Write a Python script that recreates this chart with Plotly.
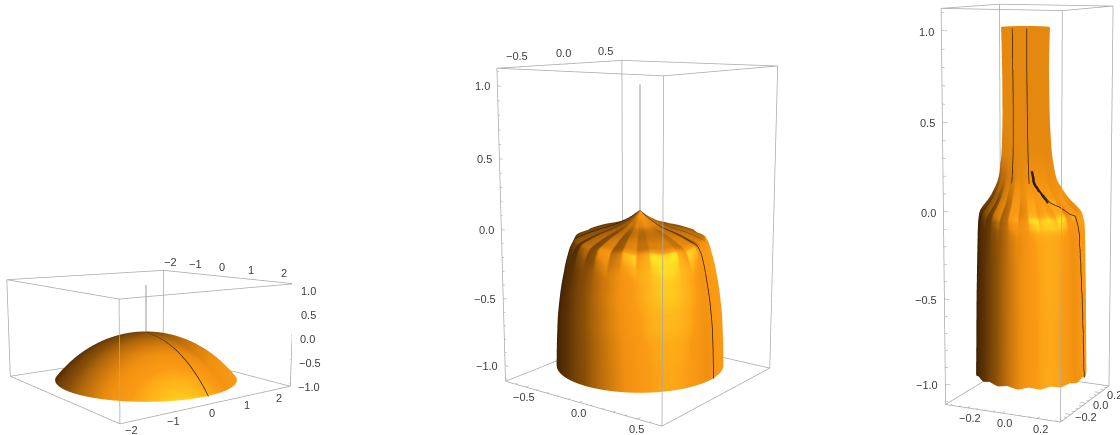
import numpy as np
import plotly.graph_objects as go

# page is cropped to this window, the figure itself is taller so that the
# scenes get the long lens of the original
WIN_W, WIN_H = 1120, 435
FIG_W, FIG_H = 1170, 1200
TOP_CUT = 380

# left panel
left_r = [0, 0.4, 0.8, 1.2, 1.5, 1.75, 1.95, 2.05, 2.07]
left_z = [-0.01, -0.04, -0.12, -0.295, -0.47, -0.66, -0.855, -0.96, -0.985]
left_seam = [0.66] * 9
left_xy_major = [-2, -1, 0, 1, 2]
left_xy_minor = [-2.2, -1.8, -1.6, -1.4, -1.2, -0.8, -0.6, -0.4, -0.2, 0.2, 0.4, 0.6, 0.8, 1.2, 1.4, 1.6, 1.8, 2.2]
left_xy_labels = ["\u22122", "\u22121", "0", "1", "2"]

# middle panel
mid_r = [0, 0.07, 0.17, 0.33, 0.47, 0.505, 0.535, 0.575, 0.6, 0.61, 0.615]
mid_z = [0.11, 0.06, 0.01, -0.035, -0.09, -0.15, -0.25, -0.45, -0.65, -0.85, -1.03]
mid_ripple_r = [0, 0, 0.004, 0.01, 0.015, 0.01, 0, 0, 0, 0, 0]
mid_ripple_z = [0, 0, 0.001, 0.005, 0.008, 0.007, 0.003, 0, 0, 0, 0]
mid_seam = [1.0] * 11
mid_seam_back = [-1.55] * 5
mid_xy_major = [-0.5, 0.0, 0.5]
mid_xy_minor = [-0.6, -0.4, -0.3, -0.2, -0.1, 0.1, 0.2, 0.3, 0.4, 0.6]
mid_xy_labels = ["\u22120.5", "0.0", "0.5"]

# right panel
right_r = [0.125, 0.12, 0.122, 0.13, 0.15, 0.2, 0.265, 0.28, 0.285, 0.29, 0.293, 0.295]
right_z = [1.01, 0.8, 0.5, 0.3, 0.15, 0.05, -0.03, -0.1, -0.3, -0.55, -0.85, -0.98]
right_ripple_r = [0, 0, 0, 0.002, 0.006, 0.01, 0.01, 0.003, 0, 0, 0, 0]
right_ripple_z = [0, 0, 0, 0.001, 0.003, 0.005, 0.005, 0.002, 0, 0, 0, 0.008]
right_flat = [1, 1, 1, 0.95, 0.7, 0.3, 0, 0, 0, 0, 0, 0]
right_shift = [-0.018, -0.018, -0.015, -0.012, -0.008, 0, 0.008, 0.012, 0.012, 0.012, 0.012, 0.012]
right_seam_a = [-0.55] * 5
right_seam_b = [0.07] * 5
right_seam_c = [0.1, 0.1, 0.1, 0.1, 0.25, 0.6, 1.05, 1.05, 1.1, 1.15, 1.2, 1.22]
right_gash = [0.1, 0.1, 0.1, 0.1, 0.25, 0.5]
right_xy_major = [-0.2, 0.0, 0.2]
right_xy_minor = [-0.3, -0.25, -0.15, -0.1, -0.05, 0.05, 0.1, 0.15, 0.25, 0.3]
right_xy_labels = ["\u22120.2", "0.0", "0.2"]

ripple = [1, -0.8, 0.9, -1, 0.8, -0.9, 1, -0.7, 0.9, -1, 1, -0.8, 0.9, -0.9, 0.8, -1] * 2

z_major = [-1.0, -0.5, 0.0, 0.5, 1.0]
z_minor = [-1.1, -0.9, -0.8, -0.7, -0.6, -0.4, -0.3, -0.2, -0.1, 0.1, 0.2, 0.3, 0.4, 0.6, 0.7, 0.8, 0.9, 1.1]
z_labels = ["\u22121.0", "\u22120.5", "0.0", "0.5", "1.0"]

colorscale = [[0, "#3a1e02"], [0.35, "#5c3205"], [0.58, "#8a5008"], [0.74, "#c8750c"], [0.84, "#f09010"],
              [0.91, "#fa9a14"], [0.96, "#ffb81c"], [1, "#ffe324"]]
box = "#a8a8a8"

panels = [
    dict(name="scene", flip=True, rng=2.3, zr=1.07, eye=(-3.881, -5.227, 1.123), half=1.004,
         cx=146.4, cy=331.6, h=551.5, w=292, smooth=17,
         r=left_r, z=left_z, wr=None, wz=None, flat=None, shift=None,
         ring=[(-1, 1), (1, 1), (1, -1), (-1, -1)],
         major=left_xy_major, minor=left_xy_minor, labels=left_xy_labels,
         x_edge=(-1, -1), x_shift=(-2, 10), y_edge=(1, 1), y_shift=(0, -9), z_edge=(1, -1), z_side="left", z_down=4,
         light=(0.3, 0.3, 0.9), fill=(0.85, 0.4, 0.3), seams=[(left_seam, 0, 1.5)], spike=True),
    dict(name="scene2", flip=False, rng=0.7, zr=1.12, eye=(1.952, -2.620, 0.675), half=0.310,
         cx=639.7, cy=225.9, h=866.9, w=300, smooth=5,
         r=mid_r, z=mid_z, wr=mid_ripple_r, wz=mid_ripple_z, flat=None, shift=None,
         ring=[(-1, -1), (-1, 1), (1, 1), (1, -1)],
         major=mid_xy_major, minor=mid_xy_minor, labels=mid_xy_labels,
         x_edge=(-1, -1), x_shift=(-1, 10), y_edge=(-1, 1), y_shift=(0, -11), z_edge=(-1, -1), z_side="right", z_down=0,
         light=(0.31, 0.25, 0.92), fill=(0.85, 0.2, 0.3), seams=[(mid_seam, 0, 1.5), (mid_seam_back, 0, 1.5)], spike=True),
    dict(name="scene3", flip=False, rng=0.33, zr=1.12, eye=(1.463, -3.138, 0.627), half=0.160,
         cx=1028.9, cy=206.1, h=1147.8, w=260, smooth=5,
         r=right_r, z=right_z, wr=right_ripple_r, wz=right_ripple_z, flat=right_flat, shift=right_shift,
         ring=[(-1, -1), (-1, 1), (1, 1), (1, -1)],
         major=right_xy_major, minor=right_xy_minor, labels=right_xy_labels,
         x_edge=(-1, -1), x_shift=(3, 10), y_edge=(1, -1), y_shift=(15, 2), z_edge=(-1, -1), z_side="right", z_down=1,
         light=(0.31, 0.25, 0.92), fill=(0.85, 0.2, 0.3),
         seams=[(right_seam_a, 0, 1.5), (right_seam_b, 0, 1.5), (right_seam_c, 3.5, 1.5), (right_gash, 3.5, 5)], spike=False),
]

fig = go.Figure()


def line(scene, xs, ys, zs, color, width):
    fig.add_trace(go.Scatter3d(x=xs, y=ys, z=zs, mode="lines", scene=scene, showlegend=False,
                               hoverinfo="skip", line=dict(color=color, width=width)))


def soften(vals, win):
    pad = win // 2
    return np.convolve(np.pad(vals, pad, mode="reflect", reflect_type="odd"), np.ones(win) / win, mode="valid")


for P in panels:
    eye = np.array(P["eye"])
    ax = P["half"]
    rng, zr = P["rng"], P["zr"]
    ysgn = -1 if P["flip"] else 1

    f = -eye / np.linalg.norm(eye)
    s = np.cross(f, [0, 0, 1.0])
    s = s / np.linalg.norm(s)
    u = np.cross(s, f)

    # surface of revolution from the profile
    n = len(P["r"])
    sub = 8
    ss = np.linspace(0, n - 1, (n - 1) * sub + 1)
    idx = np.arange(n)
    rr = soften(np.interp(ss, idx, P["r"]), P["smooth"])
    zz = soften(np.interp(ss, idx, P["z"]), P["smooth"])
    wr = np.interp(ss, idx, P["wr"]) if P["wr"] else 0 * ss
    wz = np.interp(ss, idx, P["wz"]) if P["wz"] else 0 * ss
    sh = np.interp(ss, idx, P["shift"]) if P["shift"] else 0 * ss
    th = np.linspace(0, 2 * np.pi, 321)
    rip = np.interp(th, np.linspace(0, 2 * np.pi, len(ripple) + 1), ripple + ripple[:1])
    R = rr[:, None] * (1 + wr[:, None] * rip[None, :])
    Z = zz[:, None] + wz[:, None] * rip[None, :]
    X = R * np.cos(th) + sh[:, None] * s[0]
    Y = R * np.sin(th) + sh[:, None] * s[1]

    # shade from the normals, in scaled box coordinates
    sx, sz = ax / rng, 0.5 / zr
    Pt = np.stack([X * sx, Y * sx, Z * sz], axis=-1)
    dth = np.roll(Pt[:, :-1], -1, axis=1) - np.roll(Pt[:, :-1], 1, axis=1)
    dth = np.concatenate([dth, dth[:, :1]], axis=1)
    ds = np.gradient(Pt, axis=0)
    nrm = np.cross(ds, dth)
    ln = np.linalg.norm(nrm, axis=-1, keepdims=True)
    nrm = nrm / np.where(ln == 0, 1, ln)
    nrm[ln[..., 0] < 1e-9] = [0, 0, 1]
    L1 = P["light"][0] * s + P["light"][1] * u - P["light"][2] * f
    L1 = L1 / np.linalg.norm(L1)
    L2 = P["fill"][0] * s + P["fill"][1] * u - P["fill"][2] * f
    L2 = L2 / np.linalg.norm(L2)
    shade = np.clip((np.maximum(nrm @ L1, 0.9 * (nrm @ L2)) + 0.22) / 1.22, 0, 1)
    if P["flat"]:
        fl = np.interp(ss, idx, P["flat"])[:, None]
        shade = shade * (1 - fl) + 0.81 * fl

    fig.add_trace(go.Surface(x=X, y=Y, z=Z, surfacecolor=shade, colorscale=colorscale, cmin=0, cmax=1,
                             showscale=False, scene=P["name"], hoverinfo="skip",
                             lighting=dict(ambient=1, diffuse=0, specular=0, fresnel=0)))

    # dark seam curves, the angle is measured from the side facing the viewer
    phi = np.arctan2(eye[1], eye[0])
    for deltas, first, width in P["seams"]:
        rows = np.arange(int(first * sub), (len(deltas) - 1) * sub + 1)
        ang = phi + np.interp(rows / sub, np.arange(len(deltas)), deltas)
        sxs, sys, szs = [], [], []
        for row, a in zip(rows, ang):
            k = int((a % (2 * np.pi)) / (2 * np.pi) * 320)
            sxs.append(float(R[row, k] * 1.012 * np.cos(th[k]) + sh[row] * s[0]))
            sys.append(float(R[row, k] * 1.012 * np.sin(th[k]) + sh[row] * s[1]))
            szs.append(float(Z[row, k]))
        line(P["name"], sxs, sys, szs, "#2e1c08", width)

    if P["spike"]:
        line(P["name"], [0, 0], [0, 0], [float(zz[0]), 1.0], "#777777", 1.5)

    # box
    sg = P["ring"]
    ring = [(sg[i][0] * rng, sg[i][1] * rng) for i in (0, 1, 2, 3, 0)]
    for zv in (-zr, zr):
        line(P["name"], [a for a, b in ring], [b for a, b in ring], [zv] * 5, box, 1.5)
    for a, b in ring[:4]:
        line(P["name"], [a, a], [b, b], [-zr, zr], box, 1.5)

    # ticks and labels
    tx, ty = P["x_edge"], P["y_edge"]
    tl = 0.015 * rng / ax
    ann = []
    for vals, m in ((P["major"], 1.0), (P["minor"], 0.55)):
        for v in vals:
            y0 = tx[1] * rng
            line(P["name"], [v, v], [y0, y0 - tx[1] * tl * m], [-zr, -zr], box, 1.2)
            x0 = ty[0] * rng
            zv = ty[1] * zr
            yv = v * ysgn
            line(P["name"], [x0, x0 - ty[0] * tl * m], [yv, yv], [zv, zv], box, 1.2)
    for v, txt in zip(P["major"], P["labels"]):
        ann.append(dict(x=v, y=tx[1] * rng, z=-zr, text=txt, xshift=P["x_shift"][0], yshift=-P["x_shift"][1]))
        ann.append(dict(x=ty[0] * rng, y=v * ysgn, z=ty[1] * zr, text=txt,
                        xshift=P["y_shift"][0], yshift=-P["y_shift"][1]))
    ze = P["z_edge"]
    for vals, m in ((z_major, 1.0), (z_minor, 0.55)):
        for v in vals:
            if abs(v) < zr:
                line(P["name"], [ze[0] * rng, ze[0] * rng - ze[0] * tl * m], [ze[1] * rng] * 2, [v, v], box, 1.2)
    for v, txt in zip(z_major, z_labels):
        anchor = P["z_side"]
        ann.append(dict(x=ze[0] * rng, y=ze[1] * rng, z=v, text=txt, xanchor=anchor,
                        xshift=5 if anchor == "left" else -5, yshift=-P["z_down"]))
    for a in ann:
        a.update(showarrow=False, font=dict(family="Liberation Sans", size=11, color="#3c3c3c"))

    axis = dict(visible=False, showgrid=False, zeroline=False, showbackground=False, showspikes=False)
    y0 = P["cy"] - P["h"] / 2 + TOP_CUT
    y1 = P["cy"] + P["h"] / 2 + TOP_CUT
    x0 = P["cx"] - P["w"] / 2
    x1 = P["cx"] + P["w"] / 2
    fig.update_layout({P["name"]: dict(
        domain=dict(x=[x0 / FIG_W, x1 / FIG_W], y=[1 - y1 / FIG_H, 1 - y0 / FIG_H]),
        xaxis=dict(axis, range=[-rng, rng]),
        yaxis=dict(axis, range=[-rng, rng]),
        zaxis=dict(axis, range=[-zr, zr]),
        aspectmode="manual",
        aspectratio=dict(x=2 * ax, y=2 * ax, z=1),
        camera=dict(eye=dict(x=eye[0], y=eye[1], z=eye[2]),
                    center=dict(x=0, y=0, z=0),
                    up=dict(x=0, y=0, z=1)),
        annotations=ann,
    )})

fig.update_layout(width=FIG_W, height=FIG_H, margin=dict(l=0, r=0, t=0, b=0),
                  paper_bgcolor="white", showlegend=False)

crop = (
    "var de=document.documentElement,b=document.body;"
    f"de.style.height=b.style.height='{WIN_H}px';de.style.width=b.style.width='{WIN_W}px';"
    "de.style.overflow=b.style.overflow='hidden';b.style.margin='0';"
    f"document.querySelector('.plotly-graph-div').style.marginTop='-{TOP_CUT}px';"
)
fig.write_html("out.html", config={"displayModeBar": False}, post_script=crop)
